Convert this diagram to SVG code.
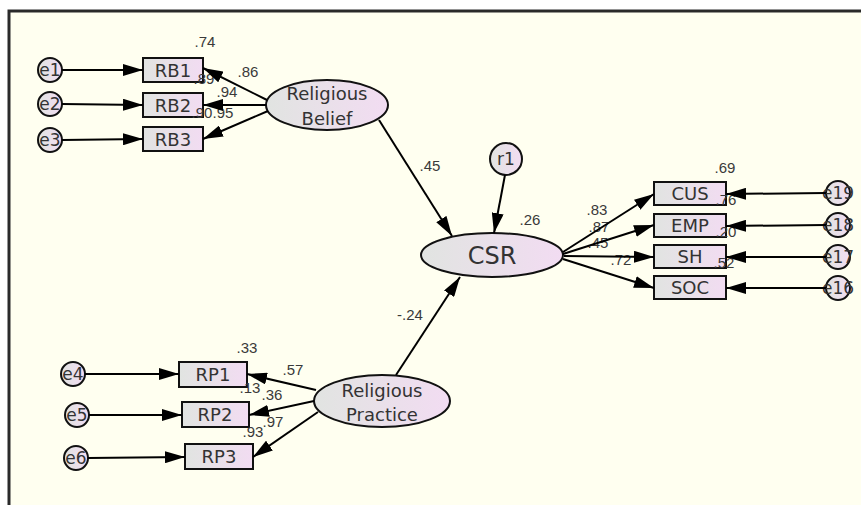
<svg xmlns="http://www.w3.org/2000/svg" width="861" height="505" viewBox="0 0 861 505">
<defs>
<linearGradient id="g" x1="0" y1="0" x2="1" y2="0">
<stop offset="0" stop-color="#e1e4e1"/>
<stop offset="1" stop-color="#f2dcf2"/>
</linearGradient>
<marker id="ah" markerUnits="userSpaceOnUse" markerWidth="20" markerHeight="12" refX="20" refY="6" orient="auto">
<path d="M0,0 L20,6 L0,12 z" fill="#000"/>
</marker>
<style>
.n{fill:url(#g);stroke:#111;stroke-width:2}
.t{font-family:"DejaVu Sans",sans-serif;fill:#333;text-anchor:middle}
.s{font-size:18px}
.e{font-size:17px}
.num{font-family:"Liberation Sans",Arial,sans-serif;font-size:15px;fill:#3a3a3a;text-anchor:middle}
.c{stroke:#000;stroke-width:2;fill:none;marker-end:url(#ah)}
</style>
</defs>
<rect x="0" y="0" width="861" height="505" fill="#fff"/>
<rect x="9" y="11" width="880" height="520" fill="#fffff0" stroke="#2a2a2a" stroke-width="3"/>

<g id="e1"><circle class="n" cx="50" cy="70" r="12"/><text class="t e" x="50" y="76">e1</text></g>
<g id="e2"><circle class="n" cx="50" cy="104" r="12"/><text class="t e" x="50" y="110">e2</text></g>
<g id="e3"><circle class="n" cx="50" cy="140" r="12"/><text class="t e" x="50" y="146">e3</text></g>
<g id="RB1"><rect class="n" x="143" y="58" width="60" height="24"/><text class="t s" x="173" y="77">RB1</text></g>
<g id="RB2"><rect class="n" x="143" y="93" width="60" height="24"/><text class="t s" x="173" y="112">RB2</text></g>
<g id="RB3"><rect class="n" x="143" y="127" width="60" height="24"/><text class="t s" x="173" y="146">RB3</text></g>
<g id="ReligiousBelief"><ellipse class="n" cx="327" cy="105" rx="61" ry="25"/><text class="t s" x="327" y="100">Religious</text><text class="t s" x="327" y="125">Belief</text></g>
<g id="CSR"><ellipse class="n" cx="492" cy="255" rx="71" ry="22"/><text class="t" style="font-size:24px" x="492" y="264">CSR</text></g>
<g id="r1"><circle class="n" cx="506" cy="159" r="16"/><text class="t e" x="506" y="165">r1</text></g>
<g id="CUS"><rect class="n" x="654" y="182" width="72" height="23"/><text class="t s" x="690" y="200">CUS</text></g>
<g id="EMP"><rect class="n" x="654" y="214" width="72" height="23"/><text class="t s" x="690" y="232">EMP</text></g>
<g id="SH"><rect class="n" x="654" y="245" width="72" height="23"/><text class="t s" x="690" y="263">SH</text></g>
<g id="SOC"><rect class="n" x="654" y="276" width="72" height="23"/><text class="t s" x="690" y="294">SOC</text></g>
<g id="e19"><circle class="n" cx="838" cy="193" r="12"/><text class="t e" x="838" y="199">e19</text></g>
<g id="e18"><circle class="n" cx="838" cy="225" r="12"/><text class="t e" x="838" y="231">e18</text></g>
<g id="e17"><circle class="n" cx="838" cy="257" r="12"/><text class="t e" x="838" y="263">e17</text></g>
<g id="e16"><circle class="n" cx="838" cy="288" r="12"/><text class="t e" x="838" y="294">e16</text></g>
<g id="e4"><circle class="n" cx="73" cy="374" r="12"/><text class="t e" x="73" y="380">e4</text></g>
<g id="e5"><circle class="n" cx="77" cy="415" r="12"/><text class="t e" x="77" y="421">e5</text></g>
<g id="e6"><circle class="n" cx="76" cy="458" r="12"/><text class="t e" x="76" y="464">e6</text></g>
<g id="RP1"><rect class="n" x="179" y="362" width="68" height="25"/><text class="t s" x="213" y="381">RP1</text></g>
<g id="RP2"><rect class="n" x="182" y="402" width="67" height="25"/><text class="t s" x="215" y="421">RP2</text></g>
<g id="RP3"><rect class="n" x="185" y="444" width="68" height="25"/><text class="t s" x="219" y="463">RP3</text></g>
<g id="ReligiousPractice"><ellipse class="n" cx="382" cy="401" rx="68" ry="26"/><text class="t s" x="382" y="397">Religious</text><text class="t s" x="382" y="421">Practice</text></g>

<g id="labels">
<text class="num" x="205" y="47">.74</text>
<text class="num" x="248" y="77">.86</text>
<text class="num" x="204" y="84">.89</text>
<text class="num" x="227" y="97">.94</text>
<text class="num" x="202" y="118">.90</text>
<text class="num" x="223" y="118">.95</text>
<text class="num" x="430" y="171">.45</text>
<text class="num" x="530" y="225">.26</text>
<text class="num" x="725" y="173">.69</text>
<text class="num" x="726" y="205">.76</text>
<text class="num" x="726" y="237">.20</text>
<text class="num" x="724" y="268">.52</text>
<text class="num" x="597" y="215">.83</text>
<text class="num" x="599" y="232">.87</text>
<text class="num" x="598" y="248">.45</text>
<text class="num" x="621" y="265">.72</text>
<text class="num" x="410" y="320">-.24</text>
<text class="num" x="247" y="353">.33</text>
<text class="num" x="293" y="375">.57</text>
<text class="num" x="250" y="393">.13</text>
<text class="num" x="272" y="400">.36</text>
<text class="num" x="273" y="427">.97</text>
<text class="num" x="253" y="437">.93</text>
</g>

<g id="connectors">
<line class="c" x1="62" y1="70" x2="143" y2="70"/>
<line class="c" x1="62" y1="104" x2="143" y2="105"/>
<line class="c" x1="62" y1="140" x2="143" y2="139"/>
<line class="c" x1="267" y1="100" x2="203" y2="68"/>
<line class="c" x1="266" y1="105" x2="203" y2="105"/>
<line class="c" x1="268" y1="111" x2="203" y2="139"/>
<line class="c" x1="379" y1="120" x2="452" y2="236"/>
<line class="c" x1="505" y1="175" x2="494" y2="233"/>
<line class="c" x1="396" y1="375" x2="460" y2="277"/>
<line class="c" x1="563" y1="252" x2="654" y2="194"/>
<line class="c" x1="563" y1="254" x2="654" y2="225"/>
<line class="c" x1="564" y1="256" x2="654" y2="257"/>
<line class="c" x1="563" y1="259" x2="654" y2="288"/>
<line class="c" x1="826" y1="193" x2="726" y2="194"/>
<line class="c" x1="826" y1="225" x2="726" y2="226"/>
<line class="c" x1="826" y1="257" x2="726" y2="257"/>
<line class="c" x1="826" y1="288" x2="726" y2="288"/>
<line class="c" x1="85" y1="374" x2="179" y2="374"/>
<line class="c" x1="89" y1="415" x2="182" y2="415"/>
<line class="c" x1="88" y1="458" x2="185" y2="457"/>
<line class="c" x1="316" y1="390" x2="247" y2="374"/>
<line class="c" x1="314" y1="401" x2="249" y2="415"/>
<line class="c" x1="318" y1="412" x2="253" y2="457"/>
</g>
</svg>
